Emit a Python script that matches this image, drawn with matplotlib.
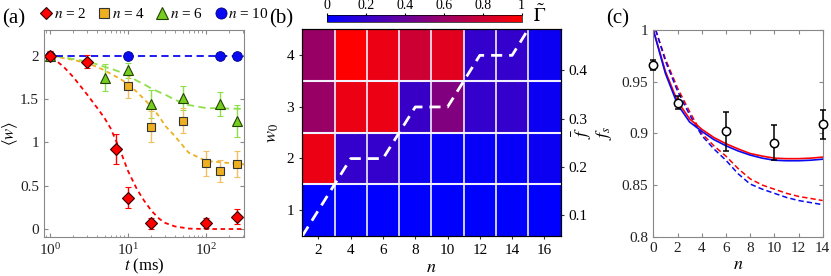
import matplotlib
matplotlib.use("Agg")
import matplotlib.pyplot as plt
import numpy as np
from matplotlib.colors import LinearSegmentedColormap
from matplotlib.lines import Line2D

plt.rcParams['font.family'] = ['Liberation Serif', 'DejaVu Serif']
plt.rcParams['mathtext.fontset'] = 'stix'
plt.rcParams['font.size'] = 9

# ---------------- panel (a) data ----------------
t_n2 = [1, 3, 7, 10, 20, 100, 250]
w_n2 = [2.0, 1.93, 0.92, 0.36, 0.066, 0.07, 0.14]
e_n2 = [0.05, 0.075, 0.175, 0.12, 0.065, 0.06, 0.087]

t_n4 = [10, 20, 50, 100, 150, 250]
w_n4 = [1.65, 1.18, 1.25, 0.76, 0.67, 0.75]
e_n4 = [0.14, 0.18, 0.145, 0.145, 0.125, 0.145]

t_n6 = [1, 5, 10, 20, 50, 150, 250]
w_n6 = [2.0, 1.745, 1.83, 1.44, 1.515, 1.44, 1.245]
e_n6 = [0.05, 0.155, 0.09, 0.16, 0.14, 0.135, 0.185]

t_n10 = [1, 10, 150, 250]
w_n10 = [2.0, 2.0, 2.0, 2.0]

t_fit = [0.84, 1, 1.5, 2, 3, 4, 5, 6, 8, 10, 13, 16, 20, 25, 30, 40, 60, 100, 310]
fit_n2 = [2.0, 2.0, 1.87, 1.75, 1.55, 1.40, 1.28, 1.16, 0.90, 0.67, 0.46, 0.33, 0.21, 0.12, 0.07, 0.03, 0.005, 0.0, 0.0]
fit_n4 = [2.0, 2.0, 1.97, 1.95, 1.91, 1.87, 1.83, 1.79, 1.73, 1.67, 1.58, 1.50, 1.41, 1.30, 1.19, 1.07, 0.88, 0.785, 0.745]
fit_n6 = [2.0, 2.0, 1.98, 1.96, 1.93, 1.90, 1.87, 1.85, 1.81, 1.77, 1.71, 1.67, 1.62, 1.58, 1.55, 1.49, 1.43, 1.395, 1.385]
fit_n10 = [2.0] * len(t_fit)

# ---------------- panel (b) data ----------------
n_edges = [1, 3, 5, 7, 9, 11, 13, 15, 17]
w0_edges = [0.5, 1.5, 2.5, 3.5, 4.5]
gamma = np.array([
    [0.00, 0.00, 0.00, 0.00, 0.00, 0.00, 0.00, 0.00],   # w0 = 1
    [0.92, 0.20, 0.20, 0.05, 0.03, 0.03, 0.03, 0.05],   # w0 = 2
    [0.60, 0.92, 0.92, 0.22, 0.50, 0.20, 0.20, 0.05],   # w0 = 3
    [0.60, 1.00, 0.92, 0.80, 0.88, 0.20, 0.20, 0.05],   # w0 = 4
])
n_f = [1, 4, 6, 8, 10, 12, 14, 15]
f_line = [0.0565, 0.217, 0.217, 0.324, 0.324, 0.431, 0.431, 0.485]

# ---------------- panel (c) data ----------------
n_exp = [0, 2, 6, 10, 14]
fs_exp = [0.966, 0.9297, 0.902, 0.891, 0.9087]
fs_err = [0.005, 0.006, 0.019, 0.017, 0.014]

n_th = [0, 1, 2, 3, 4, 5, 6, 7, 8, 9, 10, 11, 12, 13, 14]
fs_red = [1.0, 0.960, 0.931, 0.914, 0.904, 0.896, 0.890, 0.885, 0.8805, 0.878, 0.876, 0.8755, 0.8755, 0.876, 0.877]
fs_blue = [1.0, 0.958, 0.928, 0.911, 0.902, 0.894, 0.888, 0.883, 0.879, 0.876, 0.874, 0.8735, 0.8735, 0.874, 0.875]
n_th2 = [0.2, 1, 2, 3, 4, 5, 6, 7, 8, 9, 10, 11, 12, 13, 14]
fs_red_d = [1.0, 0.972, 0.944, 0.921, 0.900, 0.888, 0.878, 0.866, 0.856, 0.850, 0.846, 0.842, 0.839, 0.837, 0.835]
fs_blue_d = [1.0, 0.970, 0.941, 0.918, 0.898, 0.885, 0.874, 0.861, 0.851, 0.846, 0.842, 0.838, 0.835, 0.833, 0.831]

RED = '#ff0000'
ORANGE = '#eeb020'
ORANGE_L = '#f3c060'
GREEN = '#77cc22'
GREEN_L = '#8ee04a'
BLUE = '#0a0af0'
SPINE = '#888888'

W, H = 831, 276
fig = plt.figure(figsize=(W / 100, H / 100), dpi=100)


def box(l, t, r, b):
    return [l / W, 1 - b / H, (r - l) / W, (b - t) / H]


def style_inner(ax):
    for s in ax.spines.values():
        s.set_color(SPINE)
        s.set_linewidth(0.8)
    ax.tick_params(which='both', direction='in', top=True, right=True,
                   color=SPINE, labelcolor='#222222', labelsize=11)
    ax.tick_params(which='major', length=3)
    ax.tick_params(which='minor', length=1.8)


# ---------------- (a) ----------------
axa = fig.add_axes(box(44, 30, 244, 237))
dash = (0, (2.5, 2))
axa.plot(t_fit, fit_n2, color=RED, lw=1.3, ls=dash)
axa.plot(t_fit, fit_n4, color=ORANGE, lw=1.3, ls=dash)
axa.plot(t_fit, fit_n6, color=GREEN_L, lw=1.3, ls=(0, (4, 2.5)))
axa.plot(t_fit, fit_n10, color=BLUE, lw=1.3, ls=(0, (4, 2.5)))

axa.errorbar(t_n6, w_n6, yerr=e_n6, fmt='^', color=GREEN, mfc=GREEN, mec='#224400',
             ms=7.5, mew=0.8, ecolor=GREEN_L, elinewidth=1, capsize=2.5, capthick=0.8)
axa.errorbar(t_n4, w_n4, yerr=e_n4, fmt='s', color=ORANGE, mfc=ORANGE, mec='#333333',
             ms=6, mew=0.8, ecolor=ORANGE_L, elinewidth=1, capsize=2.5, capthick=0.8)
axa.errorbar(t_n2, w_n2, yerr=e_n2, fmt='D', color=RED, mfc=RED, mec='#330000',
             ms=6, mew=0.8, ecolor=RED, elinewidth=1, capsize=2.5, capthick=0.8)
axa.plot(t_n10, w_n10, 'o', color=BLUE, mec='#000088', ms=7, mew=0.6)

axa.set_xscale('log')
axa.set_xlim(0.838, 307)
axa.set_ylim(-0.092, 2.295)
axa.set_yticks([0, 0.5, 1, 1.5, 2])
axa.set_yticklabels(['0', '0.5', '1', '1.5', '2'])
style_inner(axa)
axa.set_xlabel('$t$ (ms)', fontsize=12, labelpad=-1)
axa.set_ylabel(r'$\langle w\rangle$', fontsize=12, labelpad=0)

handles = [
    Line2D([], [], ls='', marker='D', color=RED, mec='#330000', ms=6, mew=0.8),
    Line2D([], [], ls='', marker='s', color=ORANGE, mec='#333333', ms=7, mew=0.8),
    Line2D([], [], ls='', marker='^', color=GREEN, mec='#224400', ms=8, mew=0.8),
    Line2D([], [], ls='', marker='o', color=BLUE, mec='#000088', ms=8, mew=0.6),
]
labels = ['$n$ = 2', '$n$ = 4', '$n$ = 6', '$n$ = 10']
fig.legend(handles, labels, ncol=4, frameon=False, loc='center left',
           bbox_to_anchor=(40 / W, 1 - 14 / H), bbox_transform=fig.transFigure,
           handlelength=0.8, handletextpad=0.1, columnspacing=0.75,
           fontsize=11, borderpad=0.0, borderaxespad=0.0)

# ---------------- (b) ----------------
axb = fig.add_axes(box(302.3, 29.3, 560.5, 236))
cmap = LinearSegmentedColormap.from_list('br', ['#0000ff', '#ff0000'])
mesh = axb.pcolormesh(n_edges, w0_edges, gamma, cmap=cmap, vmin=0, vmax=1)
for xe in n_edges[1:-1]:
    axb.axvline(xe, color='#f0f0ff', lw=1.2)
for ye in w0_edges[1:-1]:
    axb.axhline(ye, color='#f0f0ff', lw=1.5)
axb.set_xlim(n_edges[0], n_edges[-1])
axb.set_ylim(w0_edges[0], w0_edges[-1])
axb.set_xticks([2, 4, 6, 8, 10, 12, 14, 16])
axb.set_yticks([1, 2, 3, 4])
axb.tick_params(direction='out', length=2.5, labelsize=11, color='#333333')
axb.set_xlabel('$n$', fontsize=13, labelpad=1)
axb.set_ylabel('$w_0$', fontsize=13, labelpad=4)

axf = axb.twinx()
axf.plot(n_f, f_line, color='white', lw=2, ls=(0, (4, 2.5)))
axf.set_ylim(0.0565, 0.485)
axf.set_yticks([0.1, 0.2, 0.3, 0.4])
axf.tick_params(direction='out', length=2.5, labelsize=11, color='#333333')
axf.set_ylabel(r'$\bar{f}$', fontsize=13)
axf.yaxis.set_label_coords((571 - 302.3) / 258.2, 0.5)

cax = fig.add_axes(box(326.7, 15, 521.7, 21.7))
cb = fig.colorbar(mesh, cax=cax, orientation='horizontal')
cb.set_ticks([0, 0.2, 0.4, 0.6, 0.8, 1])
cb.set_ticklabels(['0', '0.2', '0.4', '0.6', '0.8', '1'])
cax.xaxis.set_ticks_position('top')
cax.tick_params(direction='out', length=1.5, labelsize=10, pad=1)
cb.outline.set_linewidth(0.5)
fig.text(533 / W, 1 - 15 / H, r'$\tilde{\Gamma}$', fontsize=14, va='center', ha='left')

# ---------------- (c) ----------------
axc = fig.add_axes(box(653.3, 30, 822.7, 236.7))
axc.plot(n_th2, fs_red_d, color=RED, lw=1.1, ls=(0, (3.5, 2)))
axc.plot(n_th2, fs_blue_d, color=BLUE, lw=1.1, ls=(0, (3.5, 2)))
axc.plot(n_th, fs_red, color=RED, lw=1.2)
axc.plot(n_th, fs_blue, color=BLUE, lw=1.2)
axc.errorbar(n_exp, fs_exp, yerr=fs_err, fmt='o', mfc='white', mec='black', ms=6,
             mew=1.1, ecolor='black', elinewidth=1.1, capsize=2.5, capthick=1,
             clip_on=False, zorder=5)
axc.set_xlim(0, 14)
axc.set_ylim(0.8, 1.0)
axc.set_xticks([0, 2, 4, 6, 8, 10, 12, 14])
axc.set_yticks([0.8, 0.85, 0.9, 0.95, 1.0])
axc.set_yticklabels(['0.8', '0.85', '0.9', '0.95', '1'])
style_inner(axc)
axc.set_xlabel('$n$', fontsize=13, labelpad=1)
axc.set_ylabel('$f_s$', fontsize=13)
axc.yaxis.set_label_coords((614 - 653.3) / 169.4, 0.5)

# panel labels
fig.text(2 / W, 1 - 19 / H, '(a)', fontsize=15, va='center', ha='left')
fig.text(269 / W, 1 - 19 / H, '(b)', fontsize=15, va='center', ha='left')
fig.text(606 / W, 1 - 19 / H, '(c)', fontsize=15, va='center', ha='left')

fig.savefig('out.png', dpi=100)
